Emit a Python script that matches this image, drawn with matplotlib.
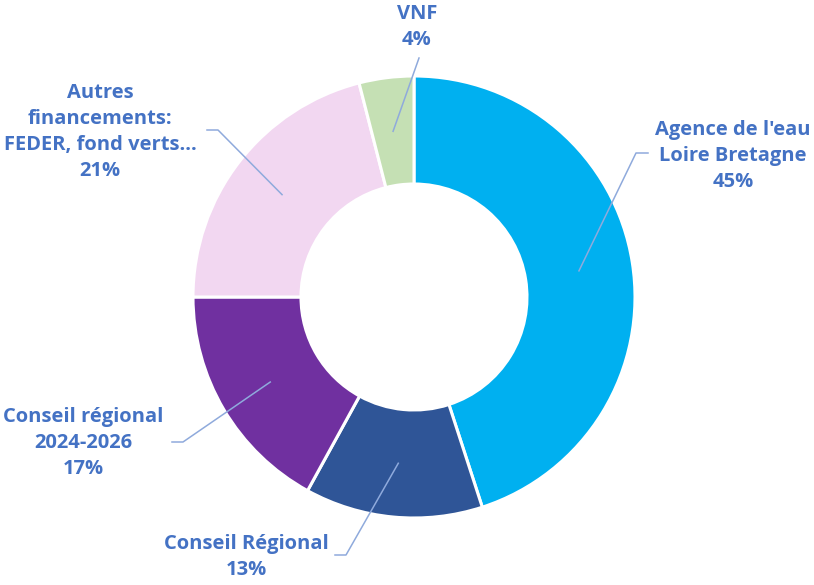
import numpy as np
import matplotlib
matplotlib.use("Agg")
import matplotlib.pyplot as plt

plt.rcParams['font.family'] = ['Open Sans', 'DejaVu Sans']

labels = ["Agence de l'eau\nLoire Bretagne", "Conseil Régional",
          "Conseil régional\n2024-2026", "Autres\nfinancements:\nFEDER, fond verts…", "VNF"]
shares = [45, 13, 17, 21, 4]
colors = ['#00B0F0', '#2F5597', '#7030A0', '#F2D7F1', '#C5E0B4']

# text centre and leader elbow points, in figure pixels (y down)
text_pos = [(733, 156), (246, 557), (83, 443), (100, 132), (417, 27)]
elbows = [[(648, 153), (636, 153)], [(335, 555), (346, 555)],
          [(172, 442), (183, 442)], [(207, 130), (218, 130)], [(419, 58)]]

W, H = 814, 585
CX, CY = 414, H - 297
R_OUT, R_IN = 221, 113
TXT = '#4472C4'
LINE = '#8FAADC'

fig = plt.figure(figsize=(W / 100, H / 100), dpi=100)
ax = fig.add_axes([0, 0, 1, 1])
ax.axis('off')

wedges, _ = ax.pie(shares, colors=colors, startangle=90, counterclock=False,
                   center=(CX, CY), radius=R_OUT,
                   wedgeprops=dict(width=R_OUT - R_IN, edgecolor='white', linewidth=2.2))
ax.set_xlim(0, W)
ax.set_ylim(0, H)

r_mid = (R_OUT + R_IN) / 2
for w, lab, s, (tx, ty), elb in zip(wedges, labels, shares, text_pos, elbows):
    ang = np.deg2rad((w.theta1 + w.theta2) / 2)
    px, py = CX + r_mid * np.cos(ang), CY + r_mid * np.sin(ang)
    xs = [p[0] for p in elb] + [px]
    ys = [H - p[1] for p in elb] + [py]
    ax.plot(xs, ys, color=LINE, lw=1.1, zorder=3)
    ax.text(tx, H - ty, f"{lab}\n{s}%", ha='center', va='center', color=TXT,
            fontsize=14.5, fontweight='bold', linespacing=1.42)

fig.savefig('out.png', dpi=100)
